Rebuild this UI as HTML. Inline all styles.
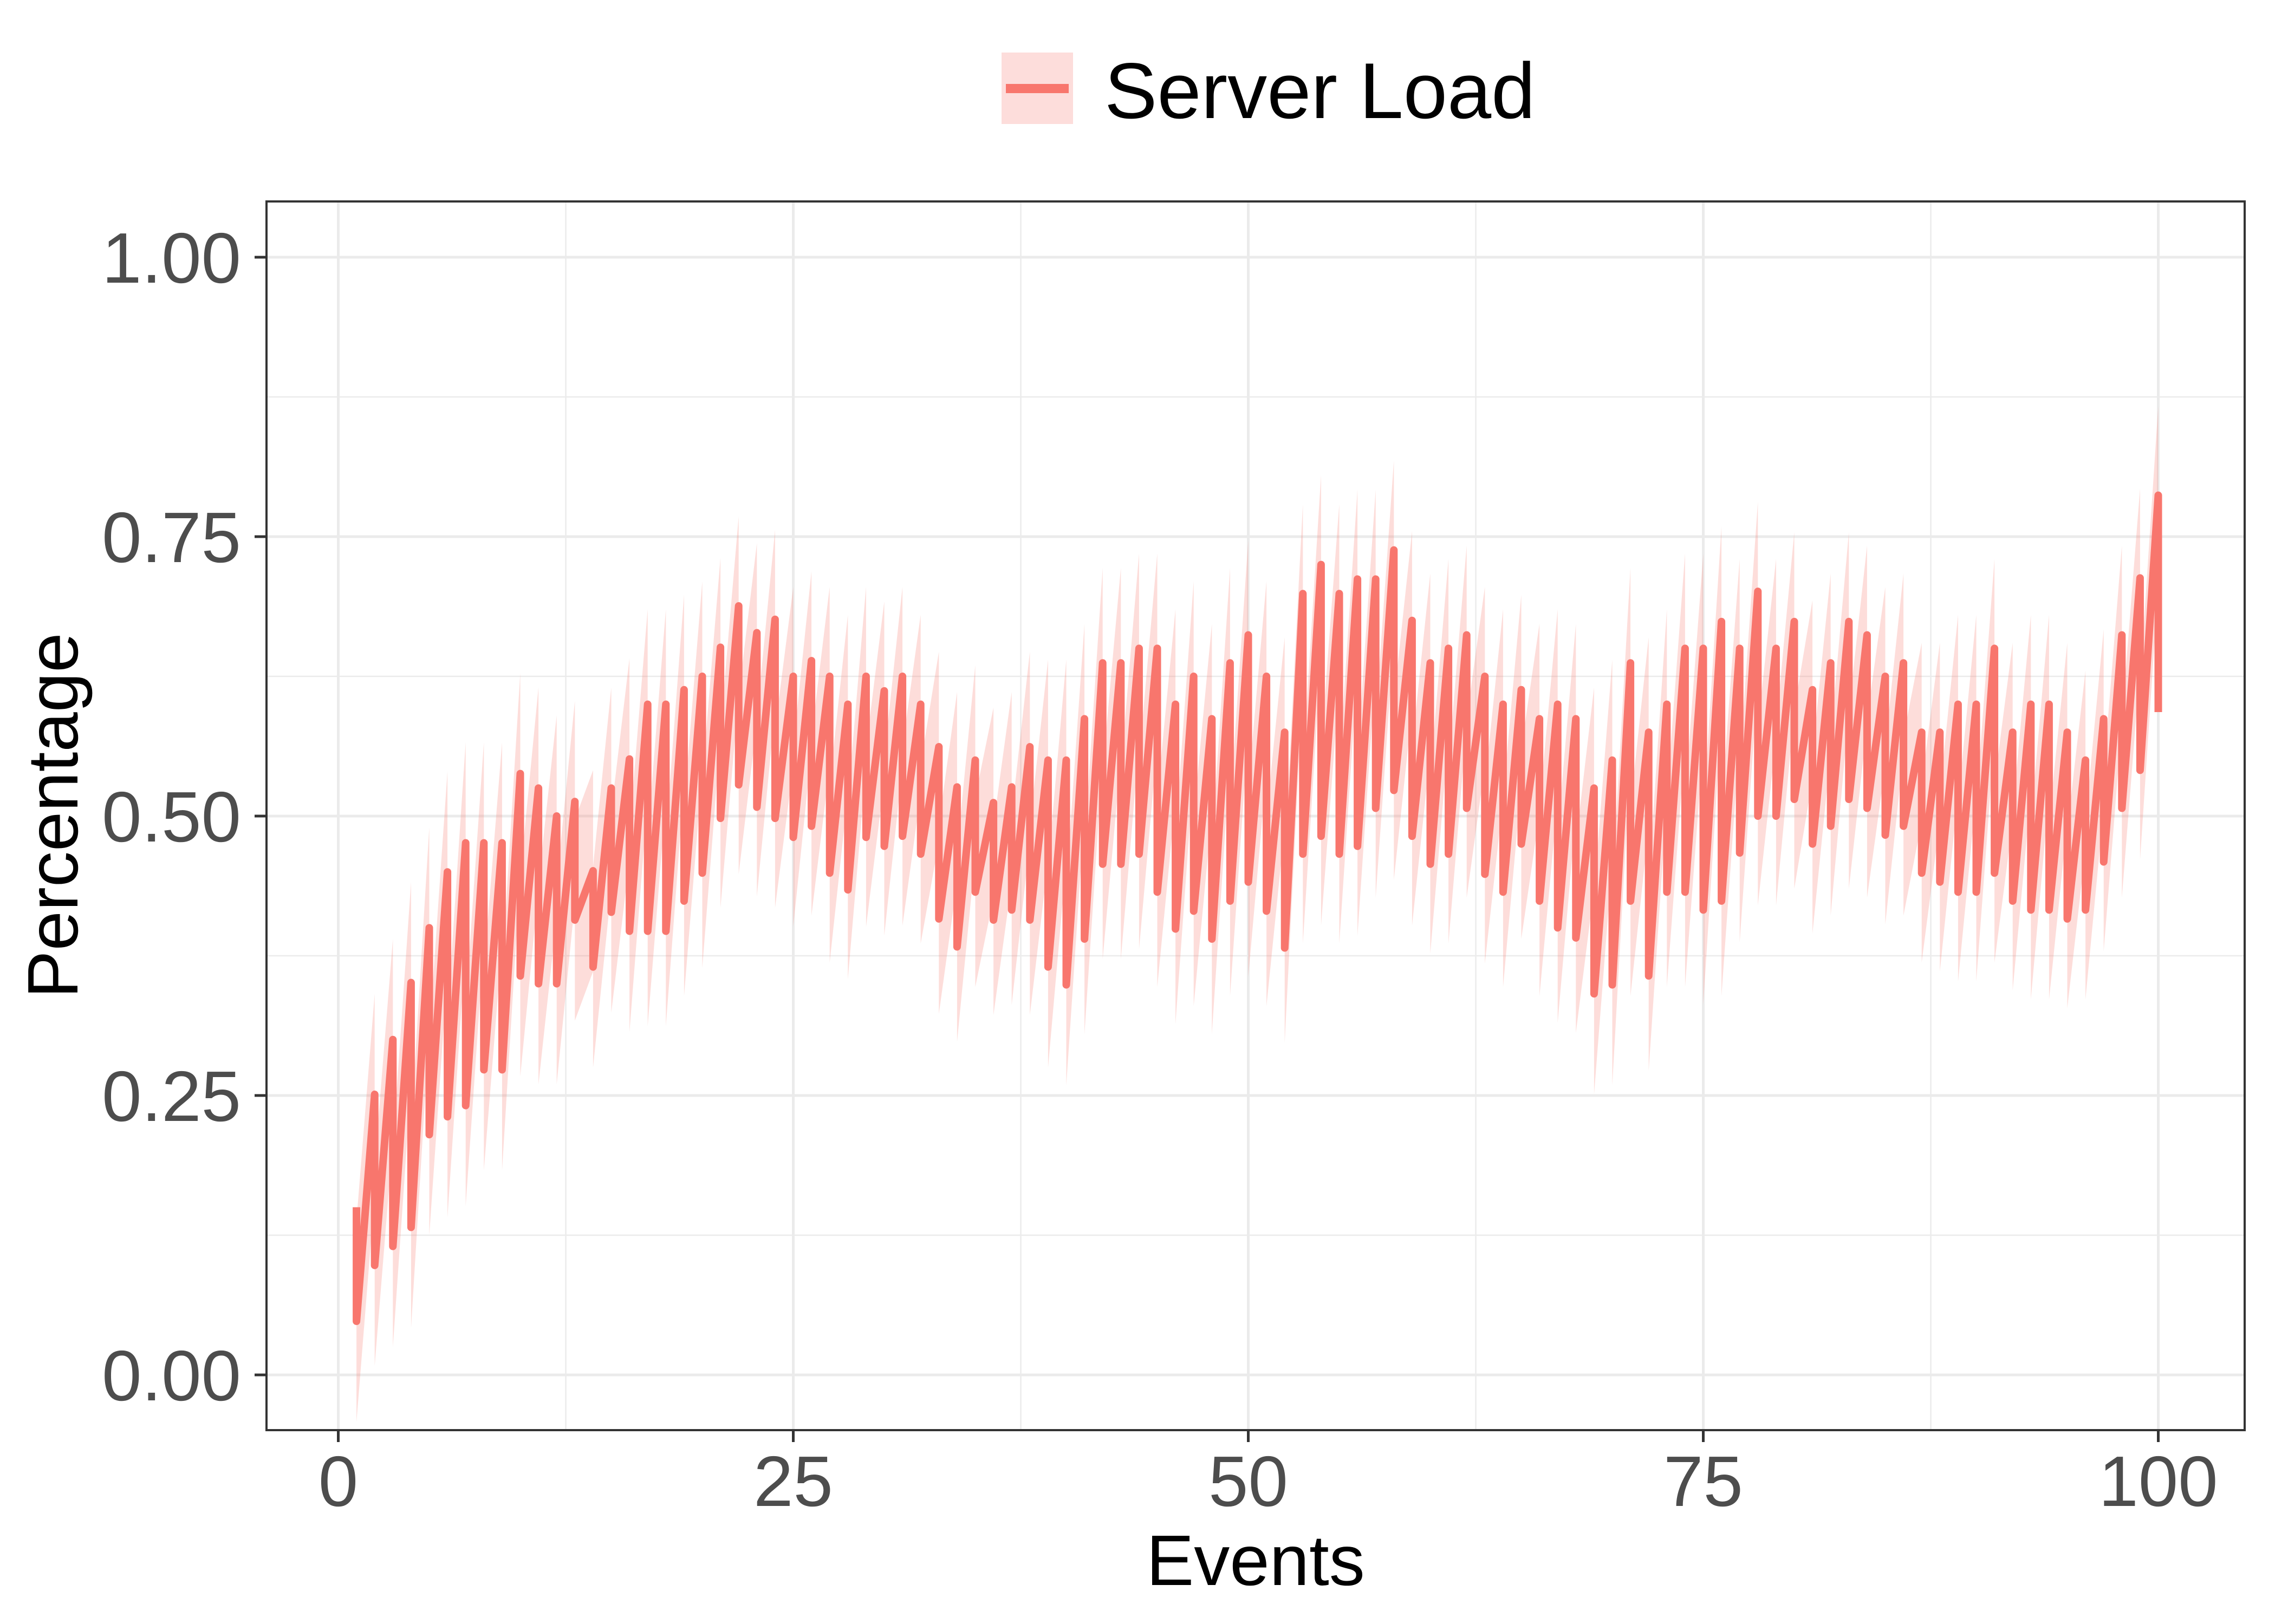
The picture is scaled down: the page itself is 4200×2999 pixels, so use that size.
<!DOCTYPE html>
<html><head><meta charset="utf-8"><title>Server Load</title>
<style>html,body{margin:0;padding:0;background:#fff}svg{display:block}text{font-family:"Liberation Sans",Arial,sans-serif}</style>
</head><body>
<svg id="chart" width="4200" height="2999" viewBox="0 0 4200 2999" xmlns="http://www.w3.org/2000/svg">
<rect x="0" y="0" width="4200" height="2999" fill="#fff"/>
<g id="grid"></g>
<g id="ribbon"></g>
<g id="lines"></g>
<rect x="492" y="372" width="3652" height="2269" fill="none" stroke="#333" stroke-width="4"/>
<g id="axes"></g>
<text x="2318" y="2927" font-size="132" text-anchor="middle" fill="#000">Events</text>
<text transform="translate(143,1506) rotate(-90)" font-size="132" text-anchor="middle" fill="#000">Percentage</text>
<g>
<rect x="1849" y="97" width="132" height="132" fill="#FDDDDB"/>
<rect x="1857" y="155" width="116" height="17" fill="#F8766D"/>
<text x="2039" y="218" font-size="146" fill="#000">Server Load</text>
</g>
</svg>
<script>
const events = [];
for (let i = 1; i <= 100; i++) events.push(i);
const highs = [0.150,0.251,0.300,0.351,0.400,0.450,0.476,0.476,0.476,0.538,
0.525,0.500,0.513,0.451,0.525,0.551,0.600,0.600,0.613,0.625,
0.651,0.688,0.664,0.676,0.625,0.639,0.625,0.600,0.625,0.612,
0.625,0.600,0.562,0.526,0.550,0.512,0.526,0.562,0.550,0.550,
0.587,0.637,0.637,0.650,0.650,0.600,0.625,0.587,0.637,0.662,
0.625,0.575,0.699,0.725,0.699,0.712,0.712,0.738,0.675,0.637,
0.650,0.662,0.625,0.600,0.613,0.587,0.600,0.587,0.525,0.550,
0.637,0.575,0.600,0.650,0.650,0.674,0.650,0.701,0.650,0.674,
0.613,0.637,0.674,0.662,0.625,0.637,0.575,0.575,0.600,0.600,
0.650,0.575,0.600,0.600,0.575,0.550,0.587,0.662,0.713,0.787];
const lows = [0.048,0.098,0.115,0.132,0.215,0.231,0.241,0.273,0.273,0.357,
0.350,0.350,0.407,0.365,0.414,0.397,0.397,0.397,0.424,0.449,
0.498,0.528,0.508,0.498,0.481,0.491,0.449,0.434,0.481,0.473,
0.482,0.466,0.408,0.383,0.432,0.407,0.416,0.407,0.365,0.349,
0.390,0.457,0.457,0.466,0.432,0.399,0.415,0.390,0.424,0.441,
0.415,0.382,0.466,0.482,0.466,0.473,0.507,0.523,0.482,0.457,
0.466,0.507,0.448,0.432,0.475,0.424,0.400,0.391,0.341,0.349,
0.424,0.357,0.432,0.432,0.416,0.424,0.467,0.500,0.500,0.515,
0.475,0.491,0.515,0.507,0.483,0.491,0.449,0.441,0.432,0.432,
0.449,0.424,0.416,0.416,0.408,0.416,0.459,0.507,0.541,0.593];
const spreads = [0.09,0.09,0.09,0.09,0.09,0.09,0.09,0.09,0.09,0.09,
0.09,0.09,0.09,0.09,0.09,0.09,0.085,0.085,0.085,0.085,
0.08,0.08,0.08,0.08,0.08,0.08,0.08,0.08,0.08,0.08,
0.08,0.08,0.085,0.085,0.085,0.085,0.085,0.085,0.09,0.09,
0.085,0.085,0.085,0.085,0.085,0.085,0.085,0.085,0.085,0.085,
0.085,0.085,0.08,0.08,0.08,0.08,0.08,0.08,0.08,0.08,
0.08,0.08,0.08,0.085,0.085,0.085,0.085,0.085,0.09,0.09,
0.085,0.085,0.085,0.085,0.085,0.085,0.08,0.08,0.08,0.08,
0.08,0.08,0.08,0.08,0.08,0.08,0.08,0.08,0.08,0.08,
0.08,0.08,0.08,0.08,0.08,0.08,0.08,0.08,0.08,0.08];
const xTicks = [0,25,50,75,100];
const xTickLabels = ["0","25","50","75","100"];
const yTicks = [0,0.25,0.5,0.75,1];
const yTickLabels = ["0.00","0.25","0.50","0.75","1.00"];

const NS = "http://www.w3.org/2000/svg";
const X0 = 624.5, XS = 33.6, Y0 = 2539, YS = 2064;
const PL = 492, PR = 4144, PT = 372, PB = 2641;
function xs(v){ return X0 + v * XS; }
function ys(v){ return Y0 - v * YS; }
function mk(tag, attrs, parent){ const e = document.createElementNS(NS, tag); for (const k in attrs) e.setAttribute(k, attrs[k]); parent.appendChild(e); return e; }

const grid = document.getElementById('grid');
// minor grid
for (let i = 0; i < xTicks.length - 1; i++) {
  const m = (xTicks[i] + xTicks[i+1]) / 2;
  const l = mk('line', {x1: xs(m), x2: xs(m), y1: PT, y2: PB, stroke: '#EBEBEB', 'stroke-width': 2.5}, grid);
  
  
}
for (let i = 0; i < yTicks.length - 1; i++) {
  const m = (yTicks[i] + yTicks[i+1]) / 2;
  const l = mk('line', {x1: PL, x2: PR, y1: ys(m), y2: ys(m), stroke: '#EBEBEB', 'stroke-width': 2.5}, grid);
  
  
}
xTicks.forEach(t => {
  const l = mk('line', {x1: xs(t), x2: xs(t), y1: PT, y2: PB, stroke: '#EBEBEB', 'stroke-width': 5}, grid);
  
  
});
yTicks.forEach(t => {
  const l = mk('line', {x1: PL, x2: PR, y1: ys(t), y2: ys(t), stroke: '#EBEBEB', 'stroke-width': 5}, grid);
  
  
});

// vertex sequence
const pts = [];
const sp = [];
events.forEach((e, i) => {
  pts.push([e, highs[i]]); sp.push(spreads[i]);
  pts.push([e, lows[i]]); sp.push(spreads[i]);
});

const ribbon = document.getElementById('ribbon');
let up = [], dn = [];
pts.forEach((p, k) => { up.push(xs(p[0]) + ',' + ys(p[1] + sp[k])); dn.push(xs(p[0]) + ',' + ys(p[1] - sp[k])); });
const poly = mk('polygon', {points: up.concat(dn.reverse()).join(' '), fill: '#F8766D', 'fill-opacity': 0.25, stroke: 'none'}, ribbon);



const lines = document.getElementById('lines');
const pl = mk('polyline', {points: pts.map(p => xs(p[0]) + ',' + ys(p[1])).join(' '), fill: 'none', stroke: '#F8766D', 'stroke-width': 14, 'stroke-linejoin': 'round', 'stroke-linecap': 'butt'}, lines);



const axes = document.getElementById('axes');
xTicks.forEach((t, i) => {
  const l = mk('line', {x1: xs(t), x2: xs(t), y1: PB, y2: PB + 22, stroke: '#333', 'stroke-width': 5}, axes);
  
  
  const tx = mk('text', {x: xs(t), y: 2781, 'font-size': 132, 'text-anchor': 'middle', fill: '#4D4D4D'}, axes);
  tx.textContent = xTickLabels[i];
  
  
});
yTicks.forEach((t, i) => {
  const l = mk('line', {x1: PL - 22, x2: PL, y1: ys(t), y2: ys(t), stroke: '#333', 'stroke-width': 5}, axes);
  
  
  const tx = mk('text', {x: 445, y: ys(t) + 47, 'font-size': 132, 'text-anchor': 'end', fill: '#4D4D4D'}, axes);
  tx.textContent = yTickLabels[i];
  
  
});
</script>
</body></html>
